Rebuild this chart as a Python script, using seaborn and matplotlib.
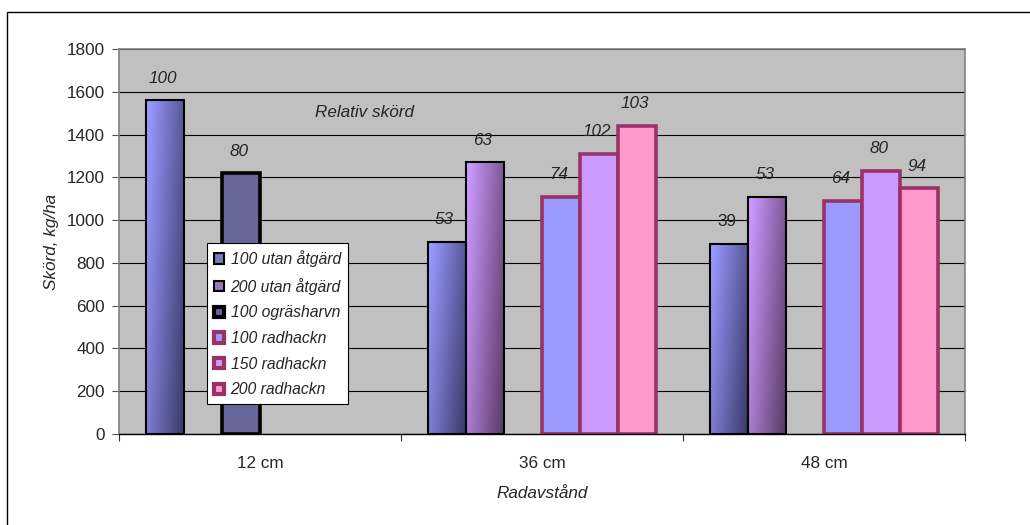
import numpy as np
import pandas as pd
import matplotlib
matplotlib.use('Agg')
import matplotlib.pyplot as plt
import seaborn as sns
from matplotlib.patches import Patch, Rectangle
from matplotlib.colors import to_rgb

nan = np.nan

# data
categories = ['12 cm', '36 cm', '48 cm']
series = ['100 utan åtgärd', '200 utan åtgärd', '100 ogräsharvn',
          '100 radhackn', '150 radhackn', '200 radhackn']

utan100 = [1560, 900, 890]
utan200 = [nan, 1270, 1110]
ograsharvn100 = [1220, nan, nan]
radhackn100 = [nan, 1110, 1090]
radhackn150 = [nan, 1310, 1230]
radhackn200 = [nan, 1440, 1150]

# relative yield labels on top of the bars
rel_utan100 = ['100', '53', '39']
rel_utan200 = ['', '63', '53']
rel_ograsharvn100 = ['80', '', '']
rel_radhackn100 = ['', '74', '64']
rel_radhackn150 = ['', '102', '80']
rel_radhackn200 = ['', '103', '94']

values = [utan100, utan200, ograsharvn100, radhackn100, radhackn150, radhackn200]
rel = [rel_utan100, rel_utan200, rel_ograsharvn100,
       rel_radhackn100, rel_radhackn150, rel_radhackn200]

rows = []
for s, vals in zip(series, values):
    for c, v in zip(categories, vals):
        rows.append({'avstand': c, 'behandling': s, 'skord': v})
df = pd.DataFrame(rows)

face = ['#9999FF', '#CC99FF', '#666699', '#9999FF', '#CC99FF', '#FF99CC']
dark = ['#3D3D6E', '#5E3D6A', '#666699', '#9999FF', '#CC99FF', '#FF99CC']
edge = ['black', 'black', 'black', '#993366', '#993366', '#993366']
lw = [1.5, 1.5, 2.6, 2.6, 2.6, 2.6]

sns.set_style('white')
plt.rcParams['font.family'] = ['Liberation Sans', 'DejaVu Sans']
fs = 12.3

fig = plt.figure(figsize=(10.3, 5.25), dpi=100)
ax = fig.add_axes([119 / 1030, 91 / 525, 846 / 1030, 385 / 525])
ax.set_facecolor('#C0C0C0')

sns.barplot(data=df, x='avstand', y='skord', hue='behandling',
            order=categories, hue_order=series, palette=face,
            width=0.81, errorbar=None, saturation=1, legend=False, ax=ax)

ax.set_xlim(-0.5, 2.5)
ax.set_ylim(0, 1800)

# diagonal shading for the two "utan åtgärd" series
ny, nx = 60, 20
xs = np.linspace(0, 1, nx)
ys = np.linspace(1, 0, ny)
X, Y = np.meshgrid(xs, ys)
T = np.clip(0.75 * X + 0.35 * (1 - Y) - 0.05, 0, 1)[..., None]

for i, cont in enumerate(ax.containers):
    for bar in cont:
        h = bar.get_height()
        if np.isnan(h) or h == 0:
            continue
        bar.set_edgecolor(edge[i])
        bar.set_linewidth(lw[i])
        bar.set_joinstyle('miter')
        if i < 2:
            img = np.array(to_rgb(face[i])) * (1 - T) + np.array(to_rgb(dark[i])) * T
            x0 = bar.get_x()
            im = ax.imshow(img, extent=[x0, x0 + bar.get_width(), 0, h],
                           aspect='auto', zorder=bar.get_zorder() - 0.1,
                           interpolation='bilinear')
            im.set_clip_path(bar)
            bar.set_facecolor('none')
        xc = bar.get_x() + bar.get_width() / 2
        ci = int(round(xc))
        txt = rel[i][ci]
        if txt:
            ax.annotate(txt, (xc - 0.008, h), xytext=(0, 22),
                        textcoords='offset pixels', ha='center', va='center',
                        fontsize=fs, style='normal' if txt == '39' and i == 0 else 'italic')

ax.set_xlim(-0.5, 2.5)
ax.set_ylim(0, 1800)

ax.set_yticks(range(0, 1801, 200))
ax.yaxis.grid(True, color='black', linewidth=0.8)
ax.set_axisbelow(True)
ax.tick_params(axis='y', direction='out', length=5, width=0.8, color='#555555',
               labelsize=fs, left=True, pad=5)
ax.set_xticks([0, 1, 2])
ax.set_xticklabels(categories)
ax.set_xticks([-0.5, 0.5, 1.5, 2.5], minor=True)
ax.tick_params(axis='x', which='major', length=0, labelsize=fs, pad=15.5)
ax.tick_params(axis='x', which='minor', direction='out', length=5, width=0.8,
               color='#333333', bottom=True)

for side in ['left', 'right', 'top']:
    ax.spines[side].set_color('#808080')
    ax.spines[side].set_linewidth(1.2)
ax.spines['bottom'].set_color('black')
ax.spines['bottom'].set_linewidth(1.0)

ax.set_ylabel('Skörd, kg/ha', fontsize=fs, style='italic', labelpad=6)
ax.set_xlabel('Radavstånd', fontsize=fs, style='italic', labelpad=11)

ax.text(0.29, 0.836, 'Relativ skörd', transform=ax.transAxes, ha='center',
        va='center', fontsize=fs, style='italic')

leg_face = ['#7777BB', '#9977BB', '#666699', '#9999FF', '#CC99FF', '#FF99CC']
handles = [Patch(facecolor=leg_face[i], edgecolor=edge[i],
                 linewidth=3.0 if i >= 2 else 1.5, label=series[i])
           for i in range(len(series))]
leg = ax.legend(handles=handles, loc='upper left', bbox_to_anchor=(0.104, 0.496),
                frameon=True, fancybox=False, framealpha=1, edgecolor='black',
                prop={'size': 11.3, 'style': 'italic'}, handlelength=0.65,
                handleheight=0.65, handletextpad=0.4, labelspacing=0.68,
                borderpad=0.45, borderaxespad=0)
leg.get_frame().set_linewidth(0.8)

# outer chart frame (cut at right/bottom like the reference)
fig.patches.append(Rectangle((7 / 1030, -0.1), 1.2, 1 - 12 / 525 + 0.1,
                             transform=fig.transFigure, fill=False,
                             edgecolor='black', linewidth=1.0))

fig.savefig('out.png', dpi=100)
